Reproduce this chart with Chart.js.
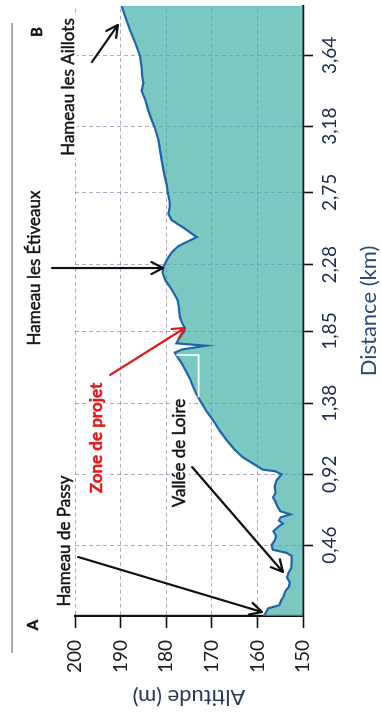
<!DOCTYPE html>
<html lang="fr">
<head>
<meta charset="utf-8">
<title>Profil altimétrique A – B</title>
<script src="https://cdn.jsdelivr.net/npm/chart.js@4/dist/chart.umd.min.js"></script>
<style>
  html, body { margin: 0; padding: 0; background: #fff; overflow: hidden; }
  body { width: 382px; height: 716px; position: relative; }
  /* the profile is laid out landscape, then turned a quarter turn to stand in the portrait page */
  #frame {
    position: absolute; left: 0; top: 0;
    width: 716px; height: 382px;
    transform-origin: 0 0;
    transform: translate(0, 716px) rotate(-90deg);
  }
  canvas { display: block; }
</style>
</head>
<body>
<div id="frame"><canvas id="profil" width="716" height="382"></canvas></div>
<script>
// ---- profile along the A–B section ----
const distanceKm = [
  0.00, 0.02, 0.05, 0.07, 0.10, 0.13, 0.16, 0.19, 0.22, 0.25,
  0.28, 0.31, 0.35, 0.39, 0.41, 0.43, 0.46, 0.49, 0.52, 0.55,
  0.58, 0.60, 0.62, 0.64, 0.66, 0.68, 0.71, 0.74, 0.77, 0.80,
  0.84, 0.88, 0.92, 0.94, 0.95, 0.99, 1.03, 1.08, 1.14, 1.20,
  1.27, 1.33, 1.40, 1.45, 1.49, 1.54, 1.58, 1.64, 1.69, 1.71,
  1.73, 1.755, 1.77, 1.81, 1.85, 1.87, 1.90, 1.94, 2.00, 2.05,
  2.12, 2.18, 2.23, 2.27, 2.31, 2.36, 2.40, 2.46, 2.52, 2.57,
  2.61, 2.66, 2.70, 2.74, 2.80, 2.88, 2.96, 3.03, 3.09, 3.17,
  3.23, 3.28, 3.35, 3.41, 3.46, 3.51, 3.56, 3.63, 3.68, 3.72,
  3.80, 3.89, 3.96
];
const altitudeM = [
  158.6, 158.2, 157.6, 155.2, 154.8, 154.2, 153.9, 153.1, 152.9, 153.5,
  153.2, 152.6, 152.5, 152.5, 153.6, 156.6, 156.9, 156.2, 155.9, 156.5,
  155.4, 154.4, 155.3, 154.9, 152.8, 155.0, 155.6, 156.0, 156.6, 156.0,
  156.2, 155.8, 154.7, 156.1, 158.8, 161.0, 163.2, 165.0, 166.7, 168.2,
  169.7, 171.2, 172.6, 173.5, 174.1, 174.8, 175.5, 176.6, 177.7, 178.1,
  176.5, 171.3, 177.8, 177.0, 176.0, 175.9, 176.5, 177.0, 177.2, 177.5,
  178.8, 180.2, 180.8, 180.6, 179.9, 178.8, 177.4, 173.3, 176.2, 178.8,
  179.5, 179.2, 179.3, 179.6, 179.9, 180.5, 181.0, 181.4, 181.7, 182.5,
  183.3, 183.9, 184.6, 185.4, 185.0, 185.3, 185.4, 185.7, 186.3, 186.8,
  187.9, 189.0, 189.8
];

// levelled platform of the project zone
const platformKm = [1.42, 1.694, 1.694];
const platformM  = [172.9, 172.9, 177.8];

// axis graduations
const distanceTicks = [0.46, 0.92, 1.38, 1.85, 2.28, 2.75, 3.18, 3.64];
const altitudeMin = 150;
const altitudeMax = 200;
const altitudeStep = 10;
const distanceMax = 3.96;

// place names with their pointers, in km / m
const notes = [
  { text: 'Hameau de Passy', at: [0.487, 202.2], from: [0.383, 199.3], to: [0.026, 159.0] },
  { text: 'Vallée de Loire', at: [1.058, 177.0], from: [0.967, 174.3], to: [0.286, 154.4] },
  { text: 'Zone de projet', at: [1.156, 195.2], from: [1.565, 192.3], to: [1.870, 175.9], red: true },
  { text: 'Hameau les Étiveaux', at: [2.259, 208.8], from: [2.259, 205.0], to: [2.259, 180.7] },
  { text: 'Hameau les Aillots', at: [3.434, 201.5], from: [3.596, 196.3], to: [3.837, 190.6] }
];
const endLabels = [
  { text: 'A', at: [-0.058, 209.2] },
  { text: 'B', at: [3.791, 208.3] }
];
const headRule = { from: [-0.24, 213.8], to: [3.85, 213.8] };

const FONT = 'Lato, "Open Sans", sans-serif';
Chart.defaults.font.family = FONT;

const toPoints = (xs, ys) => xs.map((v, i) => ({ x: v, y: ys[i] }));
const fmtKm = v => v.toFixed(2).replace('.', ',');

function drawArrow(ctx, x1, y1, x2, y2, color) {
  const a = Math.atan2(y2 - y1, x2 - x1);
  const h = 13, spread = 0.48;
  ctx.strokeStyle = color;
  ctx.lineWidth = 2.2;
  ctx.lineCap = 'round';
  ctx.lineJoin = 'round';
  ctx.beginPath();
  ctx.moveTo(x1, y1);
  ctx.lineTo(x2, y2);
  ctx.moveTo(x2 - h * Math.cos(a - spread), y2 - h * Math.sin(a - spread));
  ctx.lineTo(x2, y2);
  ctx.lineTo(x2 - h * Math.cos(a + spread), y2 - h * Math.sin(a + spread));
  ctx.stroke();
}

function drawLabel(ctx, text, x, y, font, color) {
  ctx.font = font;
  const w = ctx.measureText(text).width;
  ctx.fillStyle = '#fff';
  ctx.fillRect(x - w / 2 - 2, y - 9, w + 4, 18);
  ctx.fillStyle = color;
  ctx.strokeStyle = color;
  ctx.lineWidth = 0.45;
  ctx.textAlign = 'center';
  ctx.textBaseline = 'middle';
  ctx.fillText(text, x, y);
  ctx.strokeText(text, x, y);
}

const landmarks = {
  id: 'landmarks',
  afterDraw(chart) {
    const { ctx, scales: { x, y } } = chart;
    const px = p => [x.getPixelForValue(p[0]), y.getPixelForValue(p[1])];
    ctx.save();

    // rule across the head of the figure
    const [r1x, r1y] = px(headRule.from);
    const [r2x] = px(headRule.to);
    ctx.strokeStyle = '#555';
    ctx.lineWidth = 1;
    ctx.beginPath();
    ctx.moveTo(r1x, r1y);
    ctx.lineTo(r2x, r1y);
    ctx.stroke();

    notes.forEach(n => {
      const [fx, fy] = px(n.from);
      const [tx, ty] = px(n.to);
      drawArrow(ctx, fx, fy, tx, ty, n.red ? '#e3191c' : '#111');
    });
    notes.forEach(n => {
      const [cx, cy] = px(n.at);
      drawLabel(ctx, n.text, cx, cy,
        n.red ? `bold 17px ${FONT}` : `17px ${FONT}`,
        n.red ? '#e3191c' : '#111');
    });
    endLabels.forEach(n => {
      const [cx, cy] = px(n.at);
      drawLabel(ctx, n.text, cx, cy, `bold 15px ${FONT}`, '#111');
    });
    ctx.restore();
  }
};

new Chart(document.getElementById('profil'), {
  type: 'line',
  data: {
    datasets: [
      {
        label: 'Plateforme',
        data: toPoints(platformKm, platformM),
        borderColor: '#ffffff',
        borderWidth: 1.6,
        pointRadius: 0,
        fill: false,
        tension: 0
      },
      {
        label: 'Altitude',
        data: toPoints(distanceKm, altitudeM),
        borderColor: '#1d66ad',
        borderWidth: 2.2,
        backgroundColor: 'rgba(60,172,164,0.68)',
        pointRadius: 0,
        fill: 'start',
        tension: 0
      }
    ]
  },
  options: {
    responsive: false,
    animation: false,
    events: [],
    layout: { padding: { left: 6, right: 6, top: 75, bottom: 0 } },
    plugins: { legend: { display: false }, tooltip: { enabled: false } },
    scales: {
      x: {
        type: 'linear',
        position: 'bottom',
        min: 0,
        max: distanceMax,
        afterBuildTicks: axis => { axis.ticks = distanceTicks.map(v => ({ value: v })); },
        afterFit: axis => { axis.height = 79; },
        ticks: {
          callback: v => fmtKm(v),
          font: { size: 19 },
          color: '#1c2c4c',
          padding: 5,
          maxRotation: 0,
          autoSkip: false
        },
        grid: {
          color: 'rgba(105,105,150,0.55)',
          lineWidth: 1,
          tickLength: 10,
          tickColor: '#111',
          tickWidth: 1.6,
          tickBorderDash: []
        },
        border: { display: true, color: '#111', width: 2.2, dash: [4, 3] },
        title: {
          display: true,
          text: 'Distance (km)',
          font: { size: 22 },
          color: '#2b4b7e',
          padding: { top: 14, bottom: 0 }
        }
      },
      y: {
        min: altitudeMin,
        max: altitudeMax,
        afterFit: axis => { axis.width = 94; },
        ticks: {
          stepSize: altitudeStep,
          font: { size: 19 },
          color: '#1a1a1a',
          padding: 12
        },
        grid: {
          color: 'rgba(105,105,150,0.55)',
          lineWidth: 1,
          tickLength: 12,
          tickColor: '#111',
          tickWidth: 1.6,
          tickBorderDash: []
        },
        border: { display: true, color: '#111', width: 2.2, dash: [4, 3] },
        title: {
          display: true,
          text: 'Altitude (m)',
          font: { size: 22 },
          color: '#2b3a55',
          padding: { top: 0, bottom: 6 }
        }
      }
    }
  },
  plugins: [landmarks]
});
</script>
</body>
</html>
